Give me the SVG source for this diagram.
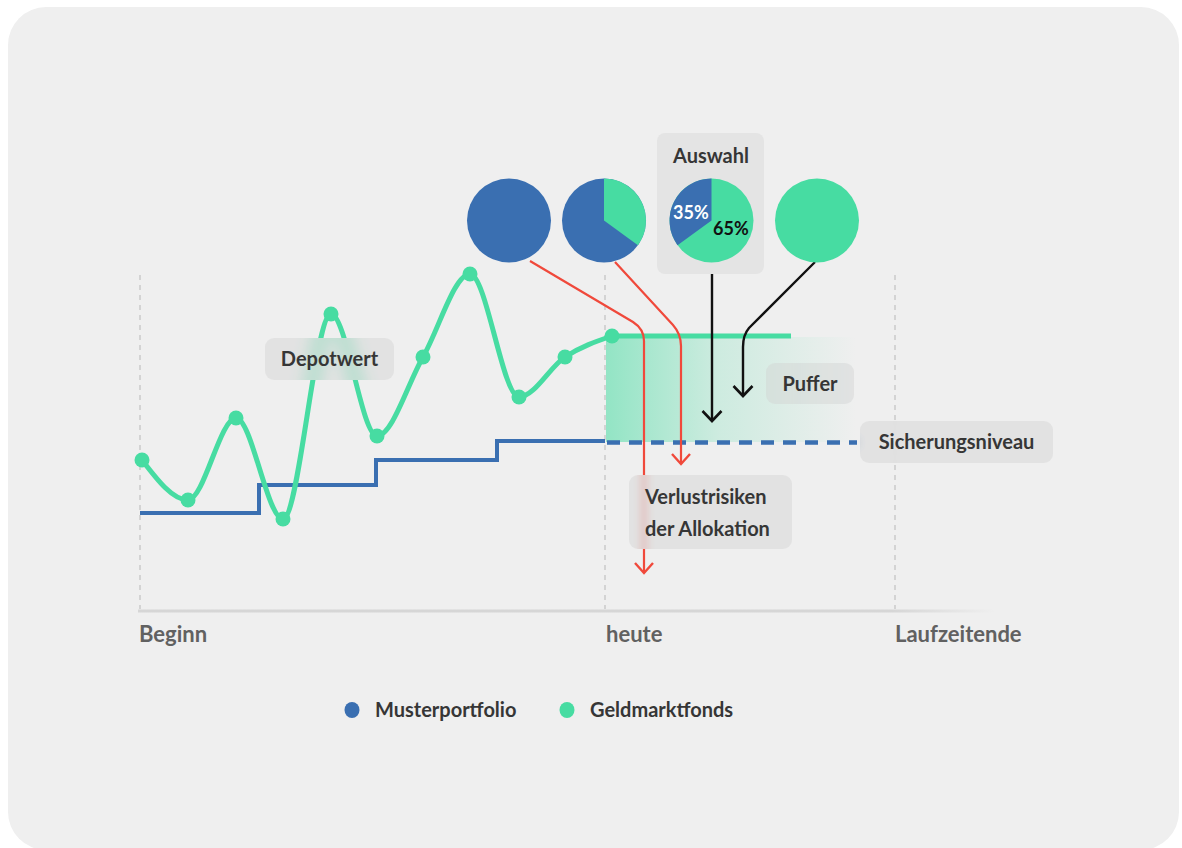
<svg xmlns="http://www.w3.org/2000/svg" xmlns:xlink="http://www.w3.org/1999/xlink" width="1182" height="848" viewBox="0 0 1182 848">
  <style>
    .lbl { font-family: Lato, "Open Sans", "Liberation Sans", sans-serif; font-weight: 700; font-size: 20px; fill: #363636; }
    .axis { font-family: Lato, "Open Sans", "Liberation Sans", sans-serif; font-weight: 700; font-size: 22px; fill: #616161; }
    .pct { font-family: Lato, "Open Sans", "Liberation Sans", sans-serif; font-weight: 700; font-size: 18px; }
    .grid { stroke: #d3d3d3; stroke-width: 2; stroke-dasharray: 5 5; fill: none; }
    .red { stroke: #f0493b; stroke-width: 2.2; fill: none; }
    .blk { stroke: #111111; stroke-width: 2.4; fill: none; }
    .dot { fill: #47dca2; }
    .blue { fill: #3a6fb1; }
    .green { fill: #47dca2; }
    .glass { fill: rgba(208,208,208,0.4); }
  </style>
  <defs>
    <!-- open chevron heads; the path runs along +x at the tip -->
    <marker id="arrRed" viewBox="-12 -11 14 22" markerWidth="14" markerHeight="22" refX="0" refY="0" orient="auto" markerUnits="userSpaceOnUse">
      <polyline points="-10,-9 0,0 -10,9" fill="none" stroke="#f0493b" stroke-width="2.4"/>
    </marker>
    <marker id="arrBlk" viewBox="-12 -11 14 22" markerWidth="14" markerHeight="22" refX="0" refY="0" orient="auto" markerUnits="userSpaceOnUse">
      <polyline points="-10,-9.5 0,0 -10,9.5" fill="none" stroke="#111111" stroke-width="2.6"/>
    </marker>
    <linearGradient id="pufferFill" x1="0" y1="0" x2="1" y2="0">
      <stop offset="0" stop-color="#47dca2" stop-opacity="0.55"/>
      <stop offset="0.45" stop-color="#47dca2" stop-opacity="0.2"/>
      <stop offset="1" stop-color="#47dca2" stop-opacity="0"/>
    </linearGradient>
    <linearGradient id="axisFade" x1="138" y1="0" x2="995" y2="0" gradientUnits="userSpaceOnUse">
      <stop offset="0" stop-color="#d6d6d6"/>
      <stop offset="0.88" stop-color="#d6d6d6"/>
      <stop offset="1" stop-color="#d6d6d6" stop-opacity="0"/>
    </linearGradient>
    <filter id="frost" x="-20%" y="-20%" width="140%" height="140%">
      <feGaussianBlur stdDeviation="4"/>
    </filter>
    <filter id="soft" x="-50%" y="-50%" width="200%" height="200%">
      <feGaussianBlur stdDeviation="8"/>
    </filter>
    <clipPath id="clipDepot"><rect x="265" y="338" width="129" height="42" rx="9"/></clipPath>
    <clipPath id="clipPuffer"><rect x="766" y="363" width="88" height="41" rx="9"/></clipPath>
    <clipPath id="clipSicher"><rect x="860" y="421" width="193" height="42" rx="9"/></clipPath>
    <clipPath id="clipVerlust"><rect x="629" y="475" width="163" height="74" rx="9"/></clipPath>
  </defs>

  <!-- card -->
  <rect x="0" y="0" width="1182" height="848" fill="#ffffff"/>
  <rect x="8" y="7" width="1171" height="843" rx="38" fill="#efefef"/>

  <!-- plot: grid, axis, series -->
  <g id="chart">
    <line class="grid" x1="140" y1="275" x2="140" y2="609"/>
    <line class="grid" x1="605" y1="275" x2="605" y2="609"/>
    <line class="grid" x1="895" y1="275" x2="895" y2="609"/>
    <line x1="138" y1="611" x2="995" y2="611" stroke="url(#axisFade)" stroke-width="3"/>

    <rect x="606" y="337" width="250" height="105" fill="url(#pufferFill)"/>

    <path d="M140 513 H259 V485 H376 V460 H497 V441 H605" fill="none" stroke="#3a6fb1" stroke-width="4"/>
    <line x1="607" y1="442.5" x2="857" y2="442.5" stroke="#3a6fb1" stroke-width="4.5" stroke-dasharray="13 9"/>

    <path id="depotCurve" d="M142 460 C157.33 480 172.67 500 188 500 C204 500 220 418 236 418 C251.67 418 267.33 519 283 519 C299 519 315 314 331 314 C346.33 314 361.67 436 377 436 C392.33 436 407.67 383.7 423 357 C438.67 329.7 454.33 274 470 274 C486.33 274 502.67 397 519 397 C534.33 397 549.67 367.1 565 357 C580.67 346.65 596.33 341.3 612 336" fill="none" stroke="#47dca2" stroke-width="5" stroke-linecap="round"/>
    <line x1="612" y1="336" x2="791" y2="336" stroke="#47dca2" stroke-width="5"/>

    <g>
      <circle class="dot" cx="142" cy="460" r="7.5"/>
      <circle class="dot" cx="188" cy="500" r="7.5"/>
      <circle class="dot" cx="236" cy="418" r="7.5"/>
      <circle class="dot" cx="283" cy="519" r="7.5"/>
      <circle class="dot" cx="331" cy="314" r="7.5"/>
      <circle class="dot" cx="377" cy="436" r="7.5"/>
      <circle class="dot" cx="423" cy="357" r="7.5"/>
      <circle class="dot" cx="470" cy="274" r="7.5"/>
      <circle class="dot" cx="519" cy="397" r="7.5"/>
      <circle class="dot" cx="565" cy="357" r="7.5"/>
      <circle class="dot" cx="612" cy="336" r="7.5"/>
    </g>
  </g>

  <!-- arrows from the allocation pies down to the plot -->
  <g id="connectors">
    <path class="red" d="M530 261 L633 322 Q644 329 644 341 L644 573" marker-end="url(#arrRed)"/>
    <path class="red" d="M615 262 L673 325 Q681 334 681 346 L681 464" marker-end="url(#arrRed)"/>
    <path class="blk" d="M712 262 L712 421" marker-end="url(#arrBlk)"/>
    <path class="blk" d="M815 262 L749 328 Q743 335 743 347 L743 396" marker-end="url(#arrBlk)"/>
  </g>

  <!-- frosted label boxes -->
  <g id="label-depotwert">
    <rect x="265" y="338" width="129" height="42" rx="9" fill="#efefef"/>
    <g clip-path="url(#clipDepot)">
      <path d="M283 519 C299 519 315 314 331 314 C346.33 314 361.67 436 377 436" fill="none" stroke="#47dca2" stroke-width="16" stroke-opacity="0.45" filter="url(#soft)"/>
    </g>
    <rect class="glass" x="265" y="338" width="129" height="42" rx="9"/>
    <text class="lbl" x="329.5" y="366" text-anchor="middle">Depotwert</text>
  </g>

  <g id="label-puffer">
    <rect x="766" y="363" width="88" height="41" rx="9" fill="#efefef"/>
    <g clip-path="url(#clipPuffer)"><use href="#chart" filter="url(#frost)"/></g>
    <rect class="glass" x="766" y="363" width="88" height="41" rx="9"/>
    <text class="lbl" x="810" y="391" text-anchor="middle">Puffer</text>
  </g>

  <g id="label-sicherungsniveau">
    <rect x="860" y="421" width="193" height="42" rx="9" fill="#efefef"/>
    <g clip-path="url(#clipSicher)"><use href="#chart" filter="url(#frost)"/></g>
    <rect class="glass" x="860" y="421" width="193" height="42" rx="9"/>
    <text class="lbl" x="956.5" y="449" text-anchor="middle">Sicherungsniveau</text>
  </g>

  <g id="label-verlustrisiken">
    <rect x="629" y="475" width="163" height="74" rx="9" fill="#efefef"/>
    <g clip-path="url(#clipVerlust)"><use href="#chart" filter="url(#frost)"/><use href="#connectors" filter="url(#frost)"/></g>
    <rect class="glass" x="629" y="475" width="163" height="74" rx="9"/>
    <text class="lbl" x="645" y="504">Verlustrisiken</text>
    <text class="lbl" x="645" y="536">der Allokation</text>
  </g>

  <!-- allocation pies -->
  <g id="pie-100-0">
    <circle class="blue" cx="509" cy="220.5" r="42"/>
  </g>
  <g id="pie-65-35">
    <circle class="blue" cx="604" cy="220.5" r="42"/>
    <path class="green" d="M604 220.5 L604 178.5 A42 42 0 0 1 637.98 245.19 Z"/>
  </g>
  <g id="pie-auswahl">
    <rect x="657" y="133" width="107" height="141" rx="8" fill="#e4e4e4"/>
    <text class="lbl" x="711" y="163" text-anchor="middle">Auswahl</text>
    <circle class="green" cx="711.5" cy="220.5" r="42"/>
    <path class="blue" d="M711.5 220.5 L711.5 178.5 A42 42 0 0 0 677.52 245.19 Z"/>
    <text class="pct" x="673" y="219" fill="#ffffff">35%</text>
    <text class="pct" x="713" y="235" fill="#111111">65%</text>
  </g>
  <g id="pie-0-100">
    <circle class="green" cx="817" cy="220.5" r="42"/>
  </g>

  <!-- time axis labels -->
  <g id="axis-labels">
    <text class="axis" x="139" y="642">Beginn</text>
    <text class="axis" x="606" y="642">heute</text>
    <text class="axis" x="895" y="642">Laufzeitende</text>
  </g>

  <!-- legend -->
  <g id="legend">
    <ellipse class="blue" cx="352" cy="710" rx="7.5" ry="8"/>
    <text class="lbl" x="375" y="717">Musterportfolio</text>
    <ellipse class="green" cx="567" cy="710" rx="7.5" ry="8"/>
    <text class="lbl" x="590" y="717">Geldmarktfonds</text>
  </g>
</svg>
